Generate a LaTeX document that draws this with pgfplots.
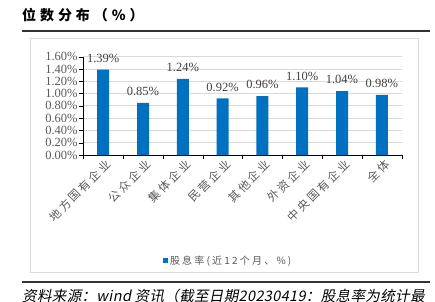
\documentclass[border=0pt]{standalone}
\usepackage{fontspec}
\usepackage{pgfplots}
\pgfplotsset{compat=1.18}
\setmainfont{Liberation Serif}
\newfontfamily\cjk[LetterSpace=22]{Noto Sans CJK SC}
\newfontfamily\cjktitle[LetterSpace=28]{Noto Sans CJK SC}
\newfontfamily\cjkit[FakeSlant=0.2,LetterSpace=2.5]{Noto Sans CJK SC}
\definecolor{barblue}{HTML}{0070C0}
\definecolor{txtgray}{HTML}{595959}
\definecolor{lblgray}{HTML}{404040}
\definecolor{gridgray}{HTML}{D9D9D9}
\begin{document}
\begin{tikzpicture}
\useasboundingbox (0pt,0pt) rectangle (435pt,-301pt);
\draw[gridgray, line width=0.8pt] (30pt,-38pt) rectangle (418pt,-272pt);
\draw[black!80, line width=1.4pt] (22pt,-31pt) -- (430pt,-31pt);
\draw[black!80, line width=1.4pt] (22pt,-282pt) -- (430pt,-282pt);
\node[anchor=west, inner sep=0pt] at (22pt,-15pt) {\fontsize{14}{14}\cjktitle\bfseries 位数分布（\%）};
\node[anchor=west, inner sep=0pt] at (22pt,-295.5pt) {\fontsize{14.5}{14.5}\cjkit 资料来源：wind 资讯（截至日期20230419：股息率为统计最};
\begin{axis}[
  at={(83.3pt,-155pt)}, anchor=south west,
  scale only axis, width=318.4pt, height=98.3pt,
  xmin=-0.5, xmax=7.5, ymin=0, ymax=1.6,
  axis x line=bottom, axis y line=left, axis line style={-, black},
  tick align=outside,
  ytick={0,0.2,0.4,0.6,0.8,1.0,1.2,1.4,1.6},
  yticklabel={\pgfmathprintnumber[fixed,fixed zerofill,precision=2]{\tick}\%},
  /pgf/number format/assume math mode=true,
  yticklabel style={font=\fontsize{12.5}{12.5}\selectfont, text=txtgray, inner sep=1.5pt},
  ytick style={black},
  major tick length=4pt,
  ymajorgrids, grid style={gridgray, line width=0.8pt},
  xtick={0,...,7},
  xticklabels={地方国有企业,公众企业,集体企业,民营企业,其他企业,外资企业,中央国有企业,全体},
  major x tick style={draw=none},
  minor xtick={-0.5,0.5,1.5,2.5,3.5,4.5,5.5,6.5,7.5},
  minor tick length=4pt,
  minor x tick style={black},
  xticklabel style={rotate=45, anchor=east, font=\fontsize{11.5}{11.5}\cjk, text=txtgray, inner sep=1pt, xshift=3pt, yshift=-6pt},
  legend style={draw=none, at={(0.455,-1.078)}, anchor=center, font=\fontsize{10}{10}\cjk, text=txtgray, inner sep=1pt},
  legend image code/.code={\fill[barblue] (0pt,-2.5pt) rectangle (5pt,2.5pt);},
  clip=false,
]
\addplot[ybar, bar width=12pt, fill=barblue, draw=none,
  nodes near coords={\pgfmathprintnumber[fixed,fixed zerofill,precision=2]{\pgfplotspointmeta}\%},
  nodes near coords style={font=\fontsize{12.5}{12.5}\selectfont, text=lblgray, anchor=south, inner sep=0pt, yshift=7pt}]
coordinates {(0,1.39) (1,0.85) (2,1.24) (3,0.92) (4,0.96) (5,1.10) (6,1.04) (7,0.98)};
\addlegendentry{股息率(近12个月、\%)}
\end{axis}
\end{tikzpicture}
\end{document}
